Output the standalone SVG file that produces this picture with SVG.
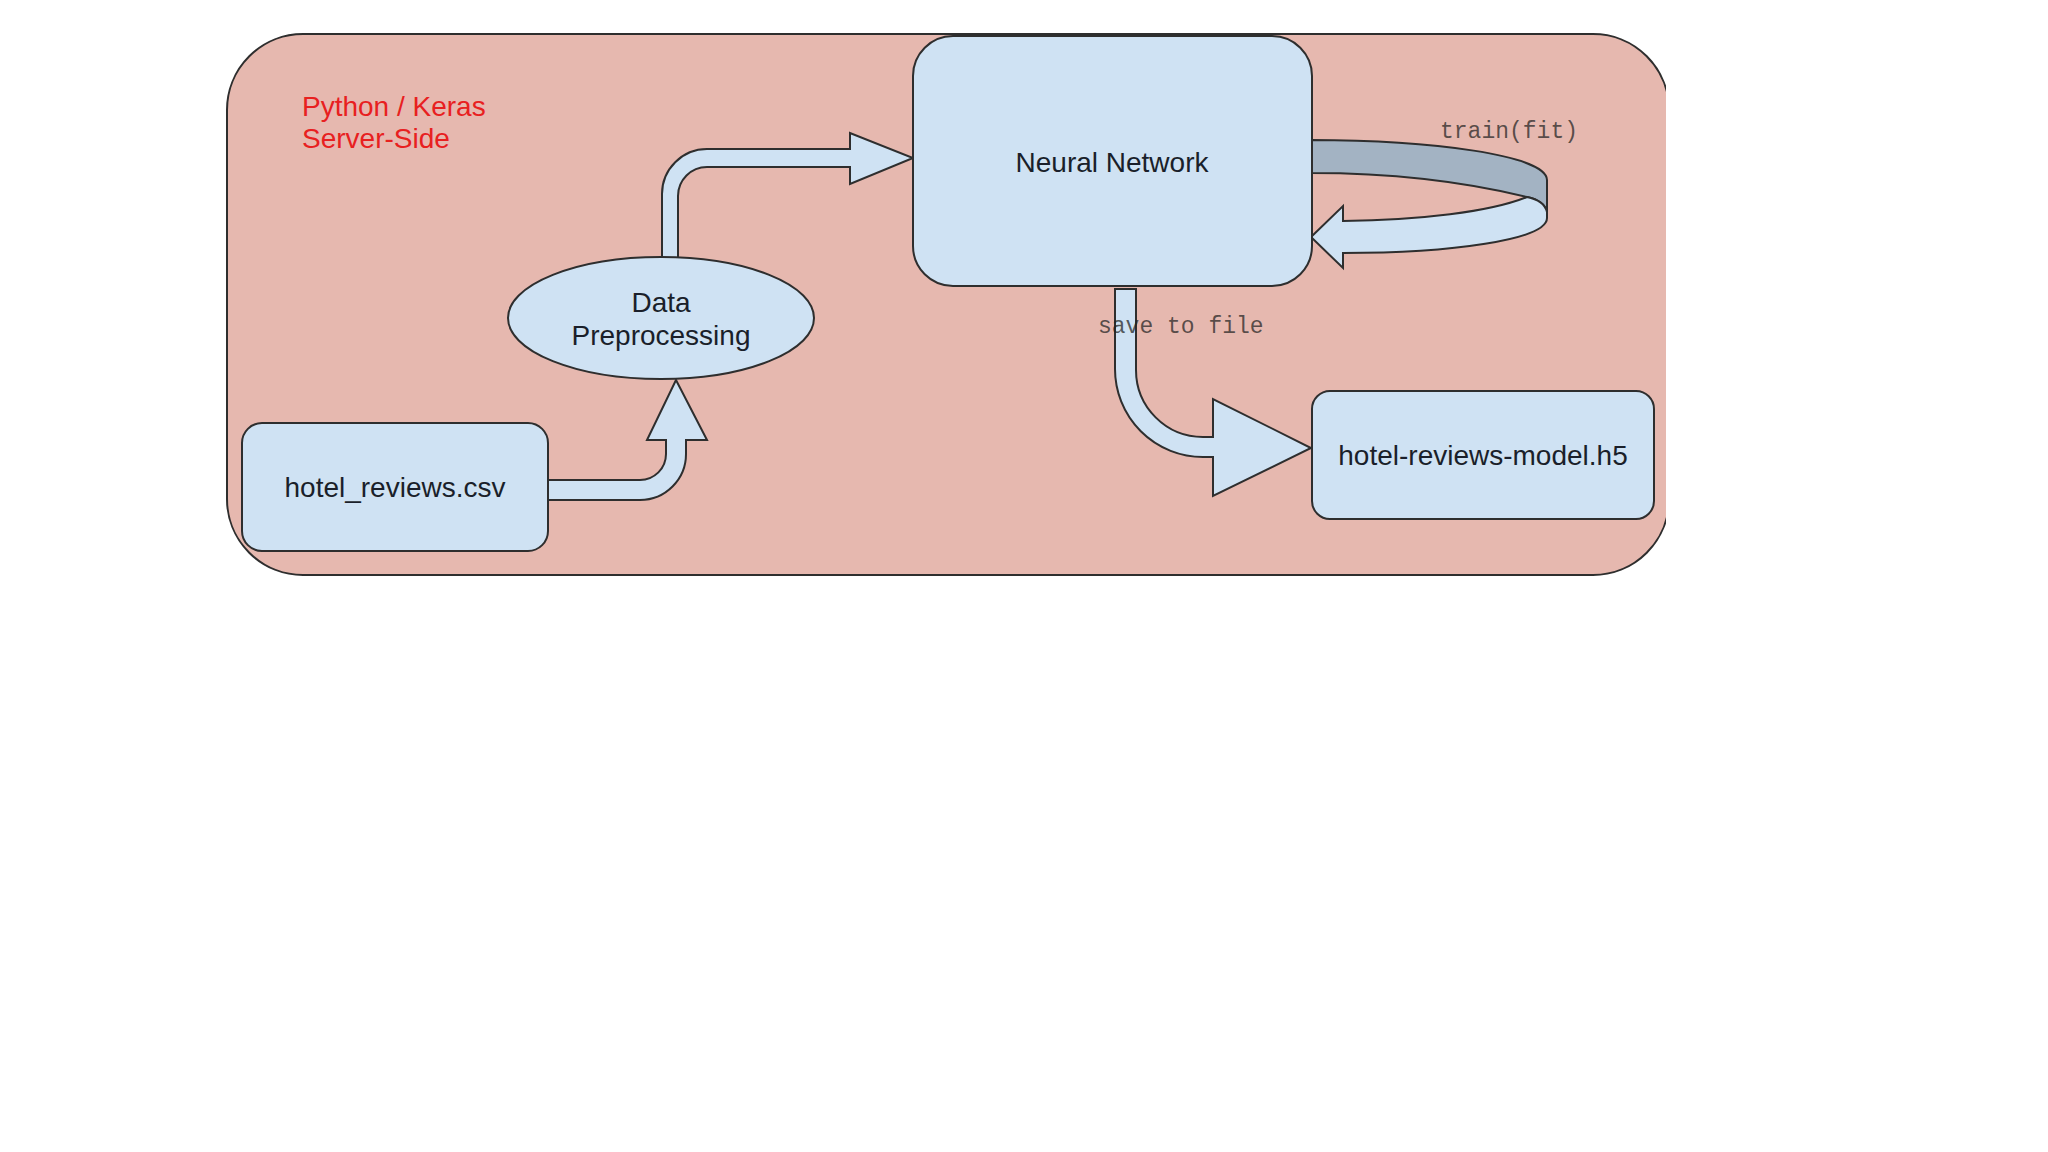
<svg xmlns="http://www.w3.org/2000/svg" width="2048" height="1152" viewBox="0 0 2048 1152">
  <defs>
    <style>
      .node { fill: #cfe2f3; stroke: #2e2e2e; stroke-width: 2; }
      .arrow { fill: #cfe2f3; stroke: #2e2e2e; stroke-width: 2; stroke-linejoin: miter; }
      .back { fill: #a3b3c3; stroke: #2e2e2e; stroke-width: 2; }
      .label { font-family: "Liberation Sans", Arial, sans-serif; font-size: 28px; fill: #1a1f2a; text-anchor: middle; }
      .red { font-family: "Liberation Sans", Arial, sans-serif; font-size: 28px; fill: #e8201f; }
      .mono { font-family: "Liberation Mono", "Courier New", monospace; font-size: 23px; fill: #222; fill-opacity: 0.72; }
    </style>
    <clipPath id="cut">
      <rect x="0" y="0" width="1666" height="1152"/>
    </clipPath>
  </defs>
  <rect x="0" y="0" width="2048" height="1152" fill="#ffffff"/>

  <g id="container" clip-path="url(#cut)">
    <rect x="227" y="34" width="1442" height="541" rx="76" ry="76" fill="#e6b8af" stroke="#2e2e2e" stroke-width="2"/>
  </g>

  <g id="title">
    <text class="red" x="302" y="116">Python / Keras</text>
    <text class="red" x="302" y="148">Server-Side</text>
  </g>

  <g id="connectors">
    <path class="arrow" d="M 547 480 H 640 A 26 26 0 0 0 666 454 V 440 H 647 L 676 380 L 707 440 H 686 V 454 A 46 46 0 0 1 640 500 H 547 Z"/>
    <path class="arrow" d="M 662 262 V 194 A 45 45 0 0 1 707 149 H 850 V 133 L 913 158 L 850 184 V 167 H 707 A 29 29 0 0 0 678 196 V 262 Z"/>
    <path class="back" d="M 1311 140 C 1430 140 1547 155 1547 180 L 1547 212 C 1545 204 1537 199 1527 197 C 1470 183 1400 173 1311 173 Z"/>
    <path class="arrow" d="M 1527 197 C 1537 199 1545 204 1547 212 L 1547 218 C 1547 240 1450 253 1343 253 L 1343 268 L 1311 237 L 1343 206 L 1343 221 C 1420 220 1490 212 1527 197 Z"/>
    <path class="arrow" d="M 1115 289 H 1136 V 370 A 67 67 0 0 0 1203 437 H 1213 V 399 L 1311 448 L 1213 496 V 457 H 1203 A 88 88 0 0 1 1115 369 Z"/>
    <text class="mono" x="1440" y="138">train(fit)</text>
    <text class="mono" x="1098" y="333">save to file</text>
  </g>

  <g id="data-preprocessing">
    <ellipse class="node" cx="661" cy="318" rx="153" ry="61"/>
    <text class="label" x="661" y="312">Data</text>
    <text class="label" x="661" y="345">Preprocessing</text>
  </g>

  <g id="neural-network">
    <rect class="node" x="913" y="36" width="399" height="250" rx="40" ry="40"/>
    <text class="label" x="1112" y="172">Neural Network</text>
  </g>

  <g id="hotel-reviews-csv">
    <rect class="node" x="242" y="423" width="306" height="128" rx="20" ry="20"/>
    <text class="label" x="395" y="497">hotel_reviews.csv</text>
  </g>

  <g id="hotel-reviews-model">
    <rect class="node" x="1312" y="391" width="342" height="128" rx="18" ry="18"/>
    <text class="label" x="1483" y="465">hotel-reviews-model.h5</text>
  </g>
</svg>
